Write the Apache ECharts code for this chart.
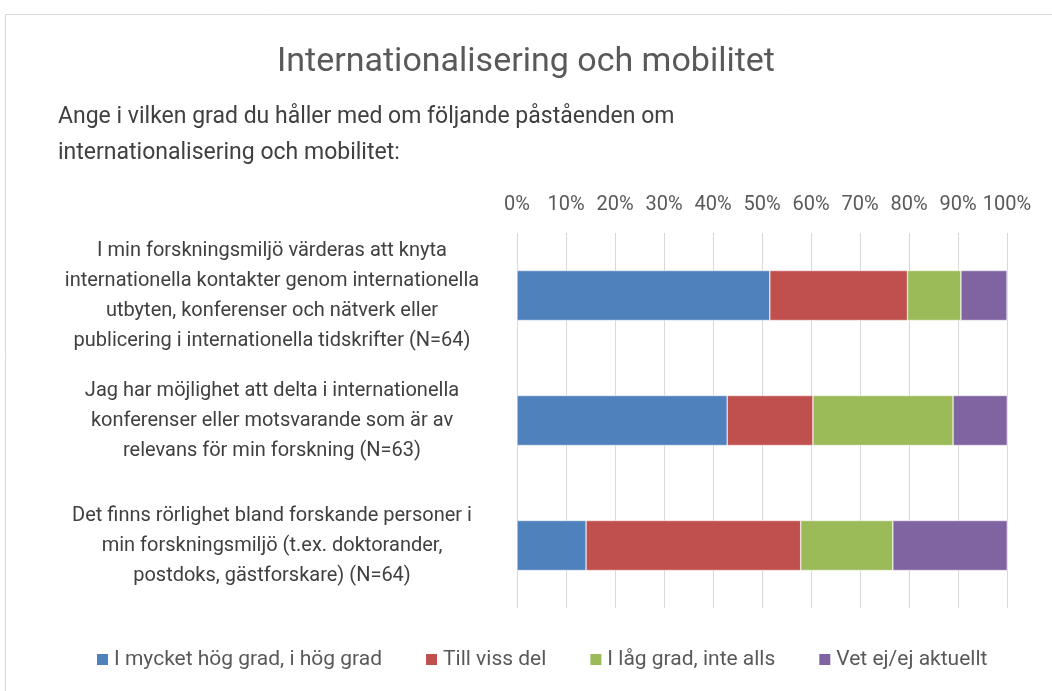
<!DOCTYPE html>
<html>
<head>
<meta charset="utf-8">
<script src="https://cdn.jsdelivr.net/npm/echarts@6/dist/echarts.min.js"></script>
<style>
  html, body { margin: 0; padding: 0; background: #fff; }
  #chart { width: 1052px; height: 691px; }
</style>
</head>
<body>
<div id="chart"></div>
<script>
// categories, top to bottom
const categories = [
  'I min forskningsmiljö värderas att knyta\ninternationella kontakter genom internationella\nutbyten, konferenser och nätverk eller\npublicering i internationella tidskrifter (N=64)',
  'Jag har möjlighet att delta i internationella\nkonferenser eller motsvarande som är av\nrelevans för min forskning (N=63)',
  'Det finns rörlighet bland forskande personer i\nmin forskningsmiljö (t.ex. doktorander,\npostdoks, gästforskare) (N=64)'
];
const seriesNames = ['I mycket hög grad, i hög grad', 'Till viss del', 'I låg grad, inte alls', 'Vet ej/ej aktuellt'];
// percentages per category
const hogGrad = [51.6, 42.9, 14.1];
const vissDel = [28.1, 17.5, 43.8];
const lagGrad = [10.9, 28.6, 18.8];
const vetEj = [9.4, 11.1, 23.4];
const tickLabels = ['0%', '10%', '20%', '30%', '40%', '50%', '60%', '70%', '80%', '90%', '100%'];

const colors = ['#4F81BD', '#C0504D', '#9BBB59', '#8064A2'];
const values = [hogGrad, vissDel, lagGrad, vetEj];
const font = 'Roboto, "Liberation Sans", sans-serif';

const chart = echarts.init(document.getElementById('chart'));
chart.setOption({
  animation: false,
  textStyle: { fontFamily: font },
  graphic: [{
    type: 'rect',
    shape: { x: 5.5, y: 14.5, width: 1100, height: 700 },
    style: { fill: 'none', stroke: '#d9d9d9', lineWidth: 1 }
  }],
  title: [{
    text: 'Internationalisering och mobilitet',
    left: 'center',
    top: 40,
    textStyle: { fontFamily: font, fontSize: 34, fontWeight: 'normal', color: '#595959' }
  }, {
    text: 'Ange i vilken grad du håller med om följande påståenden om\ninternationalisering och mobilitet:',
    left: 53,
    top: 94,
    textStyle: { fontFamily: font, fontSize: 23, fontWeight: 'normal', color: '#404040', lineHeight: 36 }
  }],
  legend: {
    bottom: 16,
    left: 90,
    itemWidth: 13,
    itemHeight: 13,
    itemGap: 42,
    icon: 'rect',
    textStyle: { fontFamily: font, fontSize: 21, color: '#595959' },
    data: seriesNames
  },
  grid: { left: 517, right: 45, top: 233, bottom: 83 },
  xAxis: {
    type: 'value',
    position: 'top',
    min: 0,
    max: 100,
    interval: 10,
    axisLine: { show: false },
    axisTick: { show: false },
    splitLine: { lineStyle: { color: '#d9d9d9', width: 1 } },
    axisLabel: {
      margin: 18,
      fontSize: 20,
      color: '#595959',
      fontFamily: font,
      formatter: (v) => tickLabels[Math.round(v / 10)]
    }
  },
  yAxis: {
    type: 'category',
    inverse: true,
    data: categories,
    axisLine: { show: false },
    axisTick: { show: false },
    axisLabel: {
      align: 'center',
      margin: 245,
      fontSize: 20,
      lineHeight: 30,
      padding: [9, 0, 0, 0],
      color: '#404040',
      fontFamily: font
    }
  },
  series: seriesNames.map((name, i) => ({
    name: name,
    type: 'bar',
    stack: 'total',
    barWidth: '40%',
    itemStyle: { color: colors[i], borderColor: '#ffffff', borderWidth: 0.5 },
    data: values[i]
  }))
});
</script>
</body>
</html>
